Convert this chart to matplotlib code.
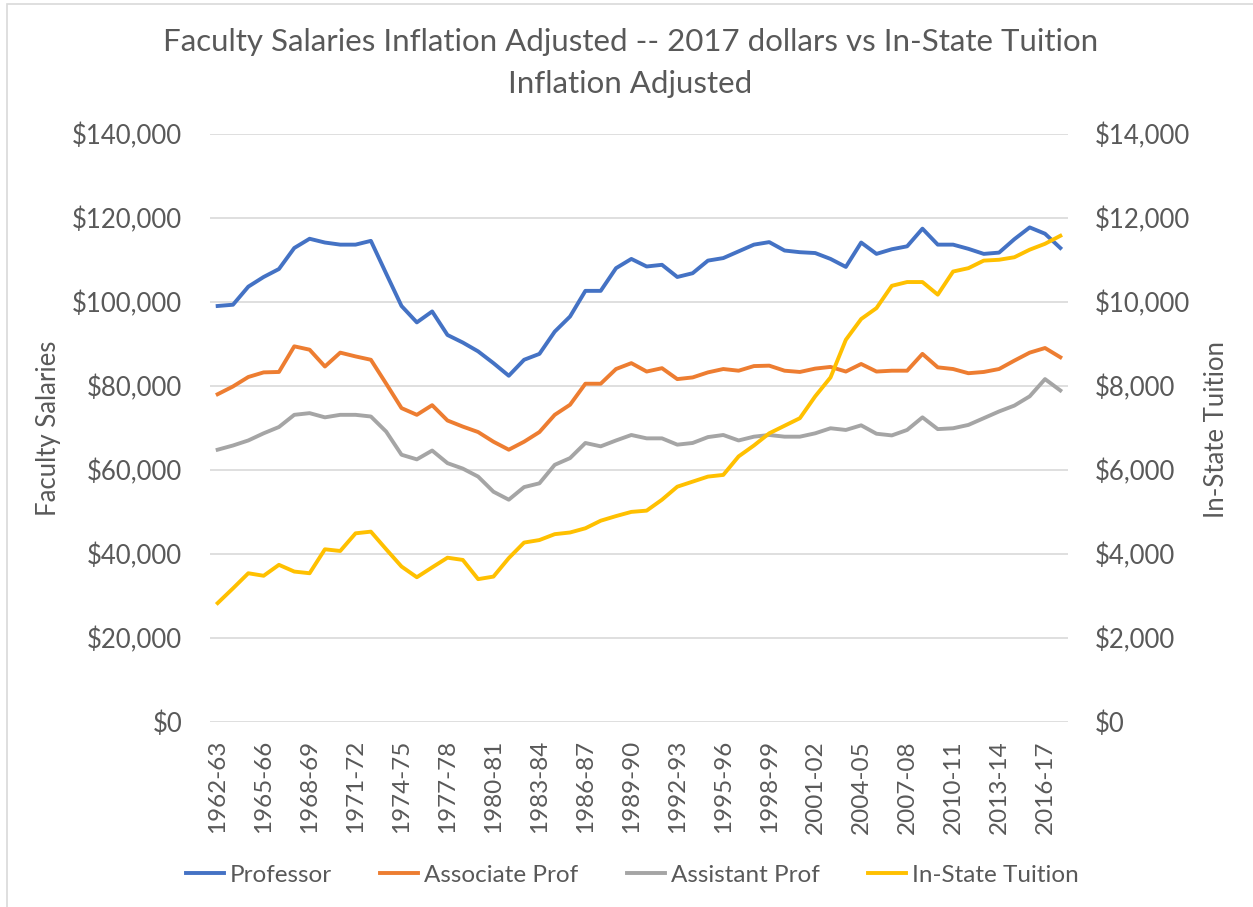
import matplotlib as mpl
mpl.use("agg")

import matplotlib.pyplot as plt
from matplotlib.patches import Rectangle
from matplotlib.ticker import FuncFormatter, FixedLocator
import numpy as np


# school years 1962-63 .. 2017-18
start_years = list(range(1962, 2018))
year_labels = ["{}-{:02d}".format(y, (y + 1) % 100) for y in start_years]

professor = [
    99000, 99300, 103600, 105900, 107800, 112800, 115000, 114100, 113600, 113600,
    114500, 106700, 99000, 95100, 97700, 92100, 90300, 88200, 85400, 82400,
    86200, 87600, 92900, 96500, 102600, 102600, 108000, 110200, 108400, 108800,
    105900, 106800, 109800, 110400, 112000, 113600, 114200, 112200, 111800, 111600,
    110200, 108300, 114100, 111400, 112500, 113200, 117400, 113600, 113600, 112600,
    111400, 111700, 114900, 117700, 116200, 112800,
]
associate = [
    78000, 79850, 82100, 83200, 83300, 89400, 88600, 84600, 87900, 87000,
    86200, 80500, 74700, 73100, 75400, 71750, 70300, 69000, 66700, 64800,
    66700, 69000, 73100, 75500, 80500, 80500, 84000, 85400, 83400, 84200,
    81600, 82000, 83200, 84000, 83600, 84700, 84800, 83600, 83300, 84100,
    84500, 83400, 85200, 83400, 83600, 83600, 87600, 84400, 84000, 83000,
    83300, 84000, 86000, 87900, 89000, 86800,
]
assistant = [
    64800, 65800, 67000, 68700, 70200, 73100, 73500, 72500, 73100, 73100,
    72700, 69100, 63600, 62500, 64600, 61600, 60300, 58400, 54800, 52900,
    55900, 56800, 61200, 62800, 66400, 65600, 67000, 68300, 67500, 67500,
    66000, 66400, 67800, 68300, 67000, 67900, 68300, 67900, 67900, 68700,
    69900, 69500, 70600, 68600, 68200, 69500, 72500, 69700, 69900, 70700,
    72300, 73900, 75300, 77500, 81600, 78900,
]
tuition = [
    2830, 3180, 3540, 3480, 3740, 3580, 3540, 4110, 4070, 4490,
    4530, 4110, 3700, 3445, 3680, 3910, 3857, 3400, 3460, 3900,
    4270, 4330, 4470, 4510, 4610, 4790, 4900, 5000, 5030, 5290,
    5600, 5720, 5840, 5880, 6320, 6580, 6870, 7050, 7230, 7750,
    8200, 9095, 9590, 9850, 10380, 10470, 10470, 10170, 10720, 10800,
    10980, 11000, 11060, 11240, 11380, 11570,
]

text_col = "#595959"
plt.rcParams["font.family"] = ["Lato", "DejaVu Sans"]

fig = plt.figure(figsize=(12.53, 9.07), dpi=100)
ax = fig.add_axes([210 / 1253, 1 - 722 / 907, 858 / 1253, (722 - 133.7) / 907])
ax2 = ax.twinx()

x = np.arange(len(year_labels))
lw = 2.8
l1, = ax.plot(x, professor, color="#4472C4", lw=lw, label="Professor", solid_joinstyle="round")
l2, = ax.plot(x, associate, color="#ED7D31", lw=lw, label="Associate Prof", solid_joinstyle="round")
l3, = ax.plot(x, assistant, color="#A5A5A5", lw=lw, label="Assistant Prof", solid_joinstyle="round")
l4, = ax2.plot(x, tuition, color="#FFC000", lw=lw, label="In-State Tuition", solid_joinstyle="round")

ax.set_xlim(-0.5, len(x) - 0.5)
ax.set_ylim(0, 140000)
ax2.set_ylim(0, 14000)
ax.set_yticks(np.arange(0, 140001, 20000))
ax2.set_yticks(np.arange(0, 14001, 2000))
money = FuncFormatter(lambda v, p: "${:,.0f}".format(v))
ax.yaxis.set_major_formatter(money)
ax2.yaxis.set_major_formatter(money)

ax.xaxis.set_major_locator(FixedLocator(x[::3]))
ax.set_xticklabels(year_labels[::3], rotation=90)

ax.grid(axis="y", color="#D9D9D9", lw=1.2)
ax.set_axisbelow(True)
for a in (ax, ax2):
    for s in a.spines.values():
        s.set_visible(False)
    a.tick_params(length=0, colors=text_col, labelsize=18.5)
ax.tick_params(axis="y", pad=20)
ax2.tick_params(axis="y", pad=19.5)
ax.tick_params(axis="x", pad=13, labelsize=17.5)

# axis titles placed in figure pixels
fig.text(49 / 1253, 1 - 428 / 907, "Faculty Salaries", rotation=90, ha="center", va="center",
         fontsize=18.5, color=text_col)
fig.text(1217 / 1253, 1 - 429 / 907, "In-State Tuition", rotation=90, ha="center", va="center",
         fontsize=18.5, color=text_col)

fig.text(0.503, 1 - 28 / 907,
         "Faculty Salaries Inflation Adjusted -- 2017 dollars vs In-State Tuition\nInflation Adjusted",
         ha="center", va="top", fontsize=22.5, color=text_col, linespacing=1.6)

fig.legend(handles=[l1, l2, l3, l4], loc="center", bbox_to_anchor=(0.5046, 1 - 875 / 907),
           ncol=4, frameon=False, fontsize=17.5, handlelength=1.55, handletextpad=0.25,
           columnspacing=2.0, labelcolor=text_col)

fig.patches.append(Rectangle((7 / 1253, -0.02), 1.1, 1 - 4 / 907 + 0.02, transform=fig.transFigure,
                             fill=False, edgecolor="#D9D9D9", lw=1.2))

fig.savefig("out.png", dpi=100)
